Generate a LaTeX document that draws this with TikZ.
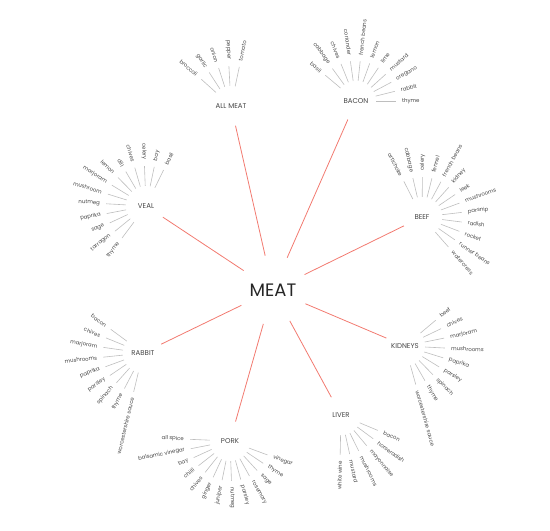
\documentclass[tikz,border=0pt]{standalone}
\usepackage{fontspec}
\setmainfont{Poppins}
\usetikzlibrary{calc}

\definecolor{meatred}{RGB}{242,122,112}
\definecolor{spokegray}{RGB}{190,190,190}
\definecolor{textgray}{RGB}{70,70,70}

% #1 category node, #2 first angle, #3 angle step, #4 ingredients
\newcommand{\spokefan}[4]{%
  \foreach \txt [count=\i] in {#4} {
    \pgfmathsetmacro\ang{#2+(\i-1)*(#3)}
    \pgfmathtruncatemacro\flip{cos(\ang)<0}
    \ifnum\flip=1
      \pgfmathsetmacro\rot{\ang+180}\def\anch{east}
    \else
      \pgfmathsetmacro\rot{\ang}\def\anch{west}
    \fi
    \node[item, anchor=\anch, rotate=\rot] (#1-\i) at ($(#1)+(\ang:46)$) {\txt};
    \draw[spoke] (#1) -- (#1-\i.\anch);
  }}

\begin{document}
\begin{tikzpicture}[x=1pt, y=1pt,
    meat node/.style={circle, minimum size=70pt, inner sep=0pt,
                      font=\fontsize{18}{18}\selectfont, text=black!85},
    cat node/.style={circle, minimum size=40pt, inner sep=0pt,
                     font=\fontsize{7}{7}\selectfont, text=textgray},
    item/.style={inner sep=0pt, font=\fontsize{5.4}{5.4}\selectfont, text=textgray},
    spoke/.style={draw=spokegray, line width=0.6pt, shorten >=6pt},
    red line/.style={draw=meatred, line width=0.8pt}]

  \useasboundingbox (0,0) rectangle (550,-531);

  \node[meat node] (meat) at (273,-290) {MEAT};
  \node[cat node] (allmeat) at (231,-106) {ALL MEAT};
  \node[cat node] (bacon) at (356,-101) {BACON};
  \node[cat node] (beef) at (422,-217) {BEEF};
  \node[cat node] (kidneys) at (405,-346) {KIDNEYS};
  \node[cat node] (liver) at (341,-415) {LIVER};
  \node[cat node] (pork) at (230,-441) {PORK};
  \node[cat node] (rabbit) at (143,-353) {RABBIT};
  \node[cat node] (veal) at (146,-206) {VEAL};

  \path
    (meat) edge [red line] (allmeat)
           edge [red line] (bacon)
           edge [red line] (beef)
           edge [red line] (kidneys)
           edge [red line] (liver)
           edge [red line] (pork)
           edge [red line] (rabbit)
           edge [red line] (veal);

  % ingredients round each meat
  \spokefan{allmeat}{138}{-15}{broccoli,garlic,onion,pepper,tomato}
  \spokefan{bacon}{140}{-14}{basil,cabbage,chives,coriander,french beans,lemon,lime,mustard,oregano,rabbit,thyme}
  \spokefan{beef}{117}{-13.8}{artichoke,cabbage,celery,fennel,french beans,kidney,leek,mushrooms,parsnip,radish,rocket,runner beans,watercress}
  \spokefan{kidneys}{40}{-14.3}{beef,chives,marjoram,mushrooms,paprika,parsley,spinach,thyme,worcestershire sauce}
  \spokefan{liver}{-22.7}{-13.7}{bacon,horseradish,mayonnaise,mushrooms,mustard,white wine}
  \spokefan{pork}{177.6}{13.5}{all spice,balsamic vinegar,bay,chilli,chives,ginger,juniper,nutmeg,parsley,rosemary,sage,thyme,vinegar}
  \spokefan{rabbit}{143.7}{14.1}{bacon,chives,marjoram,mushrooms,paprika,parsley,spinach,thyme,worcestershire sauce}
  \spokefan{veal}{64}{14.1}{basil,bay,celery,chives,dill,lemon,marjoram,mushroom,nutmeg,paprika,sage,tarragon,thyme}
\end{tikzpicture}
\end{document}
